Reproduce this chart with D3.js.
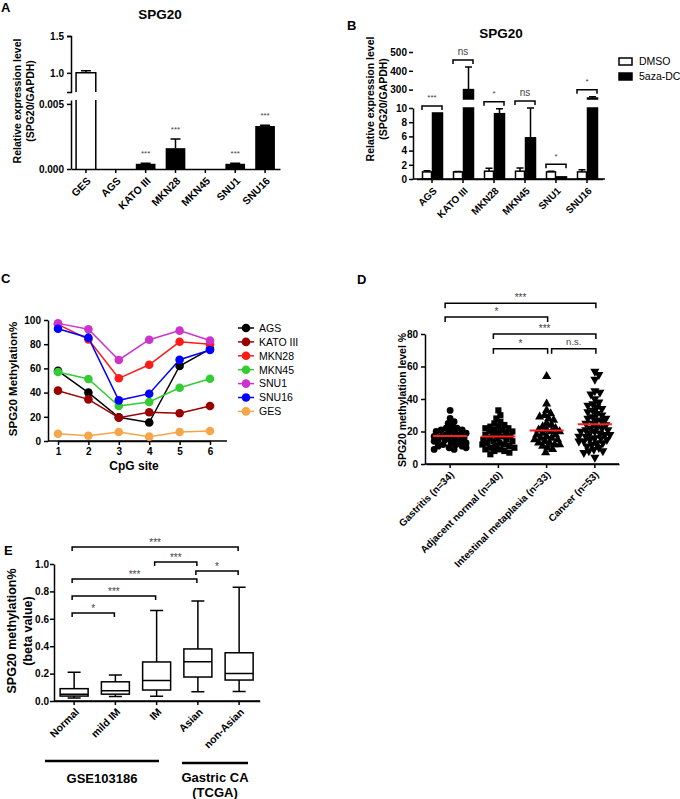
<!DOCTYPE html>
<html lang="en">
<head>
<meta charset="UTF-8">
<title>SPG20</title>
<script src="https://cdn.jsdelivr.net/npm/d3@7/dist/d3.min.js"></script>
<style>
  * { margin: 0; padding: 0; }
  body { background: #fff; }
  svg { display: block; font-family: "Liberation Sans", Arial, sans-serif; }
</style>
</head>
<body>
<svg></svg>
<script>
// ---------- data ----------
// A: relative expression, untreated cell lines
const cellsA = ['GES', 'AGS', 'KATO III', 'MKN28', 'MKN45', 'SNU1', 'SNU16'];
const exprA = [1.0, 0, 0.0004, 0.0016, 0, 0.0004, 0.0033];
const errA = [0.03, 0, 0.00004, 0.0007, 0, 0.00004, 0.00006];
const sigA = ['', '', '***', '***', '', '***', '***'];

// B: DMSO vs 5aza-DC
const cellsB = ['AGS', 'KATO III', 'MKN28', 'MKN45', 'SNU1', 'SNU16'];
const dmsoB = [1.0, 1.0, 1.1, 1.1, 1.0, 1.0];
const dmsoErrB = [0.15, 0.05, 0.4, 0.45, 0.1, 0.3];
const azaB = [9.3, 300, 9.2, 5.8, 0.3, 255];
const azaErrB = [0, 120, 0.7, 4.2, 0, 7];
const sigB = ['***', 'ns', '*', 'ns', '*', '*'];

// C: methylation % at CpG sites
const sitesC = [1, 2, 3, 4, 5, 6];
const linesC = ['AGS', 'KATO III', 'MKN28', 'MKN45', 'SNU1', 'SNU16', 'GES'];
const methAGS = [58, 40, 19.6, 15.3, 62, 76];
const methKATO = [41.6, 34.4, 19.3, 23.7, 22.9, 28.9];
const methMKN28 = [96.4, 84, 51.8, 63, 82, 80];
const methMKN45 = [57, 51.2, 28.9, 32.2, 44, 51.5];
const methSNU1 = [97.2, 92.3, 67, 83.7, 91.2, 83];
const methSNU16 = [92.8, 85.4, 33.6, 39.1, 67.2, 75.2];
const methGES = [6, 4.4, 7.4, 3.6, 7.4, 8.3];
const colorsC = ['#000000', '#990000', '#ff1a1a', '#33cc33', '#cc33cc', '#0000ff', '#f5a54a'];

// D: tissue methylation level %
const groupsD = ['Gastritis (n=34)', 'Adjacent normal (n=40)', 'Intestinal metaplasia (n=33)', 'Cancer (n=53)'];
const gastritis = [33, 28, 26, 25, 23, 22, 22, 21, 21, 20, 20, 19, 19, 18, 18, 17, 17, 16, 16, 15,
  15, 15, 14, 14, 13, 13, 12, 12, 11, 11, 10, 10, 9, 9];
const adjNormal = [33, 30, 28, 26, 25, 24, 23, 23, 22, 22, 21, 21, 20, 20, 19, 19, 18, 18, 17, 17,
  16, 16, 15, 15, 14, 14, 13, 13, 12, 12, 11, 11, 10, 10, 9, 9, 8, 8, 7, 6];
const intMeta = [54, 37, 33, 31, 30, 29, 28, 27, 25, 24, 23, 22, 21, 21, 20, 20, 19, 18, 18, 17,
  16, 16, 15, 15, 14, 13, 13, 12, 12, 11, 10, 9, 7];
const cancer = [57, 55, 52, 45, 44, 43, 40, 38, 37, 36, 35, 34, 33, 32, 31, 30, 29, 28, 28, 27,
  26, 25, 25, 24, 23, 22, 22, 21, 21, 20, 20, 19, 19, 18, 18, 17, 17, 16, 16, 15,
  15, 14, 14, 13, 13, 12, 11, 10, 9, 8, 8, 7, 4];
// significance brackets: [from group, to group, label, height in %]
const bracketsD = [[0, 3, '***', 99], [0, 2, '*', 90.5], [1, 3, '***', 80], [1, 2, '*', 71], [2, 3, 'n.s.', 71]];

// E: beta value box plots (min, q1, median, q3, max)
const groupsE = ['Normal', 'mild IM', 'IM', 'Asian', 'non-Asian'];
const minE = [0.022, 0.032, 0.035, 0.068, 0.07];
const q1E = [0.036, 0.05, 0.08, 0.175, 0.153];
const medE = [0.05, 0.075, 0.15, 0.287, 0.2];
const q3E = [0.09, 0.14, 0.285, 0.38, 0.352];
const maxE = [0.21, 0.19, 0.66, 0.73, 0.83];
const bracketsE = [[0, 4, '***', 1.124], [2, 3, '***', 1.015], [3, 4, '*', 0.949], [0, 3, '***', 0.89], [0, 2, '***', 0.766], [0, 1, '*', 0.642]];

// ---------- helpers ----------
const svg = d3.select('svg').attr('width', 680).attr('height', 799);

const styleAxis = sel => {
  sel.attr('font-family', null).attr('font-size', null);
  sel.selectAll('path, line').attr('stroke', '#000').attr('stroke-width', 1.5);
  sel.selectAll('text').attr('fill', '#000').style('font-weight', 'bold').style('font-size', '10px');
};
const rotLabels = (sel, dx, dy, size) => {
  sel.selectAll('text')
    .attr('x', 0).attr('y', 0).attr('dy', '0.35em')
    .attr('text-anchor', 'end')
    .attr('transform', `translate(${dx},${dy}) rotate(-45)`)
    .style('font-size', size + 'px');
};
const label = (g, x, y, txt, size, opts = {}) => g.append('text')
  .attr('x', x).attr('y', y).attr('text-anchor', opts.anchor || 'middle')
  .attr('font-size', size).attr('font-weight', opts.weight || 'bold')
  .attr('fill', opts.fill || '#000').text(txt);
const vlabel = (g, x, y, txt, size) => g.append('text')
  .attr('transform', `translate(${x},${y}) rotate(-90)`)
  .attr('text-anchor', 'middle').attr('dy', '0.35em')
  .attr('font-size', size).attr('font-weight', 'bold').text(txt);
const bracket = (g, x1, x2, y, txt, h, fs, gap) => {
  g.append('path').attr('d', `M${x1},${y + h}V${y}H${x2}V${y + h}`)
    .attr('fill', 'none').attr('stroke', '#000').attr('stroke-width', 1.5);
  g.append('text').attr('x', (x1 + x2) / 2).attr('y', y - gap)
    .attr('text-anchor', 'middle').attr('font-size', fs).attr('fill', '#444').text(txt);
};

// panel letters
label(svg, 1, 12, 'A', 13, { anchor: 'start' });
label(svg, 347, 30, 'B', 13, { anchor: 'start' });
label(svg, 1, 283, 'C', 13, { anchor: 'start' });
label(svg, 357, 284, 'D', 13, { anchor: 'start' });
label(svg, 4, 555, 'E', 13, { anchor: 'start' });

// ---------- Panel A ----------
{
  const g = svg.append('g');
  const x = d3.scaleBand().domain(cellsA).range([71, 280]).paddingInner(0.34).paddingOuter(0.17);
  const yLo = d3.scaleLinear().domain([0, 0.0053]).range([169, 100]);
  const yUp = d3.scaleLinear().domain([0.74, 1.5]).range([92, 36]);
  const yOf = v => v > 0.0053 ? yUp(v) : yLo(v);

  g.append('g').attr('transform', 'translate(71,0)')
    .call(d3.axisLeft(yUp).tickValues([1.0, 1.5]).tickFormat(d3.format('.1f')).tickSize(4).tickSizeOuter(4))
    .call(styleAxis);
  g.append('g').attr('transform', 'translate(71,0)')
    .call(d3.axisLeft(yLo).tickValues([0, 0.005]).tickFormat(d3.format('.3f')).tickSize(4).tickSizeOuter(0))
    .call(styleAxis);

  cellsA.forEach((c, i) => {
    const v = exprA[i], e = errA[i];
    if (!v) return;
    const x0 = x(c), x1 = x0 + x.bandwidth(), cx = (x0 + x1) / 2;
    if (i === 0) {
      // open bar broken across the axis gap
      g.append('path').attr('d', `M${x0},169V${yLo(0.0053)}M${x1},169V${yLo(0.0053)}M${x0},92V${yUp(v)}H${x1}V92`)
        .attr('fill', 'none').attr('stroke', '#000').attr('stroke-width', 1.5);
    } else {
      g.append('rect').attr('x', x0).attr('y', yLo(v)).attr('width', x1 - x0).attr('height', 169 - yLo(v));
    }
    const ye = yOf(v + e);
    g.append('path').attr('d', `M${cx},${yOf(v)}V${ye}M${cx - 5},${ye}H${cx + 5}`)
      .attr('stroke', '#000').attr('stroke-width', 1.5);
    if (sigA[i]) g.append('text').attr('x', cx).attr('y', ye - 7).attr('text-anchor', 'middle')
      .attr('font-size', 8).attr('fill', '#444').text(sigA[i]);
  });

  g.append('g').attr('transform', 'translate(0,169)')
    .call(d3.axisBottom(x).tickSize(4).tickSizeOuter(0))
    .call(styleAxis).call(s => rotLabels(s, 3, 10, 10.5));

  label(g, 160, 19, 'SPG20', 13.5);
  vlabel(g, 17, 101, 'Relative expression level', 10.5);
  vlabel(g, 30, 101, '(SPG20/GAPDH)', 10.5);
}

// ---------- Panel B ----------
{
  const g = svg.append('g');
  const x = d3.scaleBand().domain(cellsB).range([416.5, 602.5]);
  const sub = d3.scaleBand().domain(['DMSO', '5aza-DC']).range([6, 25]).paddingInner(0.1);
  const yLo = d3.scaleLinear().domain([0, 10]).range([179, 108]);
  const yUp = d3.scaleLinear().domain([250, 500]).range([99, 52]);
  const yOf = v => v > 10 ? yUp(v) : yLo(v);

  g.append('g').attr('transform', 'translate(413,0)')
    .call(d3.axisLeft(yUp).tickValues([300, 400, 500]).tickSize(4).tickSizeOuter(4).tickPadding(2))
    .call(styleAxis);
  g.append('g').attr('transform', 'translate(413,0)')
    .call(d3.axisLeft(yLo).tickValues([0, 2, 4, 6, 8, 10]).tickSize(4).tickSizeOuter(0).tickPadding(2))
    .call(styleAxis);

  const drawBar = (x0, w, v, e, fill) => {
    const cx = x0 + w / 2;
    const top = yLo(Math.min(v, 10));
    g.append('rect').attr('x', x0).attr('y', top).attr('width', w).attr('height', 179 - top)
      .attr('fill', fill).attr('stroke', '#000').attr('stroke-width', 1.5);
    if (v > 10) g.append('rect').attr('x', x0).attr('y', yUp(v)).attr('width', w).attr('height', 99 - yUp(v))
      .attr('fill', fill).attr('stroke', '#000').attr('stroke-width', 1.5);
    if (e > 0) {
      const ye = yOf(v + e);
      g.append('path').attr('d', `M${cx},${yOf(v)}V${ye}M${cx - 3.5},${ye}H${cx + 3.5}`)
        .attr('stroke', '#000').attr('stroke-width', 1.5);
    }
    return yOf(v + e);
  };

  cellsB.forEach((c, i) => {
    const t1 = drawBar(x(c) + sub('DMSO'), sub.bandwidth(), dmsoB[i], dmsoErrB[i], '#fff');
    const t2 = drawBar(x(c) + sub('5aza-DC'), sub.bandwidth() + 1, azaB[i], azaErrB[i], '#000');
    const cx = x(c) + x.bandwidth() / 2;
    const isNs = sigB[i] === 'ns';
    const by = Math.min(t1, t2) - 7;
    bracket(g, cx - 10, cx + 10, by, sigB[i], 4, isNs ? 10 : 8, isNs ? 5 : 5.5);
  });

  g.append('g').attr('transform', 'translate(0,179)')
    .call(d3.axisBottom(x).tickSize(4).tickSizeOuter(0))
    .call(styleAxis).call(s => rotLabels(s, 3, 10, 10));
  g.select('.domain').remove();
  g.append('path').attr('d', 'M413,179H605').attr('stroke', '#000').attr('stroke-width', 1.5);

  label(g, 501, 38, 'SPG20', 13.5);
  vlabel(g, 370, 99, 'Relative expression level', 10.5);
  vlabel(g, 383, 99, '(SPG20/GAPDH)', 10.5);

  // legend
  [['DMSO', '#fff'], ['5aza-DC', '#000']].forEach(([name, fill], i) => {
    g.append('rect').attr('x', 619).attr('y', 58 + i * 15).attr('width', 13).attr('height', 7)
      .attr('fill', fill).attr('stroke', '#000').attr('stroke-width', 1.5);
    label(g, 639, 65 + i * 15, name, 10.5, { anchor: 'start', weight: 'normal' });
  });
}

// ---------- Panel C ----------
{
  const g = svg.append('g');
  const seriesC = [methAGS, methKATO, methMKN28, methMKN45, methSNU1, methSNU16, methGES];
  const x = d3.scaleLinear().domain([1, 6]).range([58, 210]);
  const y = d3.scaleLinear().domain([0, 100]).range([441, 320]);

  g.append('g').attr('transform', 'translate(48,0)')
    .call(d3.axisLeft(y).tickValues([0, 20, 40, 60, 80, 100]).tickSize(4).tickSizeOuter(0))
    .call(styleAxis);
  g.append('g').attr('transform', 'translate(0,441)')
    .call(d3.axisBottom(x).tickValues(sitesC).tickFormat(d3.format('d')).tickSize(4).tickSizeOuter(0))
    .call(styleAxis);
  g.append('path').attr('d', 'M48,441H227').attr('stroke', '#000').attr('stroke-width', 1.5);

  const line = d3.line().x((d, i) => x(sitesC[i])).y(d => y(d));
  seriesC.forEach((vals, k) => {
    g.append('path').attr('d', line(vals)).attr('fill', 'none')
      .attr('stroke', colorsC[k]).attr('stroke-width', 1.5);
    g.selectAll(null).data(vals).enter().append('circle')
      .attr('cx', (d, i) => x(sitesC[i])).attr('cy', d => y(d)).attr('r', 4.3)
      .attr('fill', colorsC[k]);
  });

  label(g, 134, 470, 'CpG site', 12);
  vlabel(g, 13, 379, 'SPG20 Methylation%', 11.5);

  linesC.forEach((name, k) => {
    const ly = 328 + k * 13.9;
    g.append('path').attr('d', `M238,${ly}H254`).attr('stroke', colorsC[k]).attr('stroke-width', 1.5);
    g.append('circle').attr('cx', 246).attr('cy', ly).attr('r', 4.3).attr('fill', colorsC[k]);
    label(g, 259, ly + 3.8, name, 10.5, { anchor: 'start', weight: 'normal' });
  });
}

// ---------- Panel D ----------
{
  const g = svg.append('g');
  const dataD = [gastritis, adjNormal, intMeta, cancer];
  const symbols = [d3.symbolCircle, d3.symbolSquare, d3.symbolTriangle, d3.symbolTriangle];
  const sizes = [36, 38, 36, 36];
  const x = d3.scaleBand().domain(groupsD).range([426, 619]);
  const y = d3.scaleLinear().domain([0, 80]).range([464, 334]);

  g.append('g').attr('transform', 'translate(425,0)')
    .call(d3.axisLeft(y).tickValues([0, 20, 40, 60, 80]).tickSize(4).tickSizeOuter(0))
    .call(styleAxis);
  g.append('g').attr('transform', 'translate(0,464)')
    .call(d3.axisBottom(x).tickSize(4).tickSizeOuter(0))
    .call(styleAxis).call(s => rotLabels(s, 2, 9, 10));
  g.append('path').attr('d', 'M425,464H619').attr('stroke', '#000').attr('stroke-width', 1.5);

  // simple deterministic swarm layout, kept within +-16 px of the group centre
  const swarm = (vals, d, maxOff) => {
    const placed = [];
    return vals.map(v => {
      const py = y(v);
      let best = 0, bestDist = -1;
      for (let k = 0; k <= maxOff * 2; k++) {
        const o = (k % 2 ? 1 : -1) * Math.ceil(k / 2);
        const md = placed.length ? d3.min(placed, p => Math.hypot(p.x - o, p.y - py)) : Infinity;
        if (md >= d) { best = o; bestDist = md; break; }
        if (md > bestDist) { best = o; bestDist = md; }
      }
      placed.push({ x: best, y: py });
      return { x: best, y: py };
    });
  };

  dataD.forEach((vals, k) => {
    const cx = x(groupsD[k]) + x.bandwidth() / 2;
    const pts = swarm(vals, 5, 16);
    const sym = d3.symbol().type(symbols[k]).size(sizes[k]);
    g.selectAll(null).data(pts).enter().append('path')
      .attr('d', sym)
      .attr('transform', d => `translate(${cx + d.x},${d.y})${k === 3 ? ' rotate(180)' : ''}`)
      .attr('fill', '#000');
    const m = d3.mean(vals), sd = d3.deviation(vals);
    g.append('path')
      .attr('d', `M${cx},${y(m - sd)}V${y(m + sd)}M${cx - 5},${y(m - sd)}H${cx + 5}M${cx - 5},${y(m + sd)}H${cx + 5}`)
      .attr('stroke', '#000').attr('stroke-width', 1.3);
    g.append('path').attr('d', `M${cx - 17},${y(m)}H${cx + 17}`)
      .attr('stroke', '#ff2020').attr('stroke-width', 2);
  });

  bracketsD.forEach(([a, b, txt, h]) => {
    const ca = x(groupsD[a]) + x.bandwidth() / 2, cb = x(groupsD[b]) + x.bandwidth() / 2;
    const shared = bracketsD.some(o => o[1] === a && o[3] === h);
    bracket(g, shared ? ca + 5 : ca - 5, cb + 1, y(h), txt, 5, txt === 'n.s.' ? 9.5 : 10, txt === 'n.s.' ? 4 : 2);
  });

  vlabel(g, 402, 400, 'SPG20 methylation level %', 10.5);
}

// ---------- Panel E ----------
{
  const g = svg.append('g');
  const x = d3.scaleBand().domain(groupsE).range([53.5, 259.75]);
  const y = d3.scaleLinear().domain([0, 1]).range([701, 564]);

  g.append('g').attr('transform', 'translate(54,0)')
    .call(d3.axisLeft(y).tickValues([0, 0.2, 0.4, 0.6, 0.8, 1.0]).tickFormat(d3.format('.1f'))
      .tickSize(4).tickSizeOuter(0).tickPadding(1))
    .call(styleAxis);
  g.append('g').attr('transform', 'translate(0,701)')
    .call(d3.axisBottom(x).tickSize(4).tickSizeOuter(0))
    .call(styleAxis).call(s => rotLabels(s, 3, 9, 10.5));
  g.append('path').attr('d', 'M54,701H260').attr('stroke', '#000').attr('stroke-width', 1.5);

  groupsE.forEach((name, i) => {
    const cx = x(name) + x.bandwidth() / 2, hw = 14, cw = 6.5;
    g.append('path').attr('d',
      `M${cx},${y(maxE[i])}V${y(q3E[i])}M${cx},${y(q1E[i])}V${y(minE[i])}` +
      `M${cx - cw},${y(maxE[i])}H${cx + cw}M${cx - cw},${y(minE[i])}H${cx + cw}` +
      `M${cx - hw},${y(medE[i])}H${cx + hw}`)
      .attr('fill', 'none').attr('stroke', '#000').attr('stroke-width', 1.5);
    g.append('rect').attr('x', cx - hw).attr('y', y(q3E[i])).attr('width', hw * 2)
      .attr('height', y(q1E[i]) - y(q3E[i])).attr('fill', 'none').attr('stroke', '#000').attr('stroke-width', 1.5);
  });

  bracketsE.forEach(([a, b, txt, h]) => {
    const ca = x(groupsE[a]) + x.bandwidth() / 2, cb = x(groupsE[b]) + x.bandwidth() / 2;
    bracket(g, ca - 2, cb - 1, y(h), txt, 4, 10, 1);
  });

  vlabel(g, 12, 631, 'SPG20 methylation%', 12.5);
  vlabel(g, 28, 631, '(beta value)', 12.5);

  g.append('path').attr('d', 'M45,761H159').attr('stroke', '#000').attr('stroke-width', 2.5);
  g.append('path').attr('d', 'M182,763H248').attr('stroke', '#000').attr('stroke-width', 2.5);
  label(g, 102, 783, 'GSE103186', 13);
  label(g, 215, 782, 'Gastric CA', 13);
  label(g, 215, 797, '(TCGA)', 13);
}
</script>
</body>
</html>
